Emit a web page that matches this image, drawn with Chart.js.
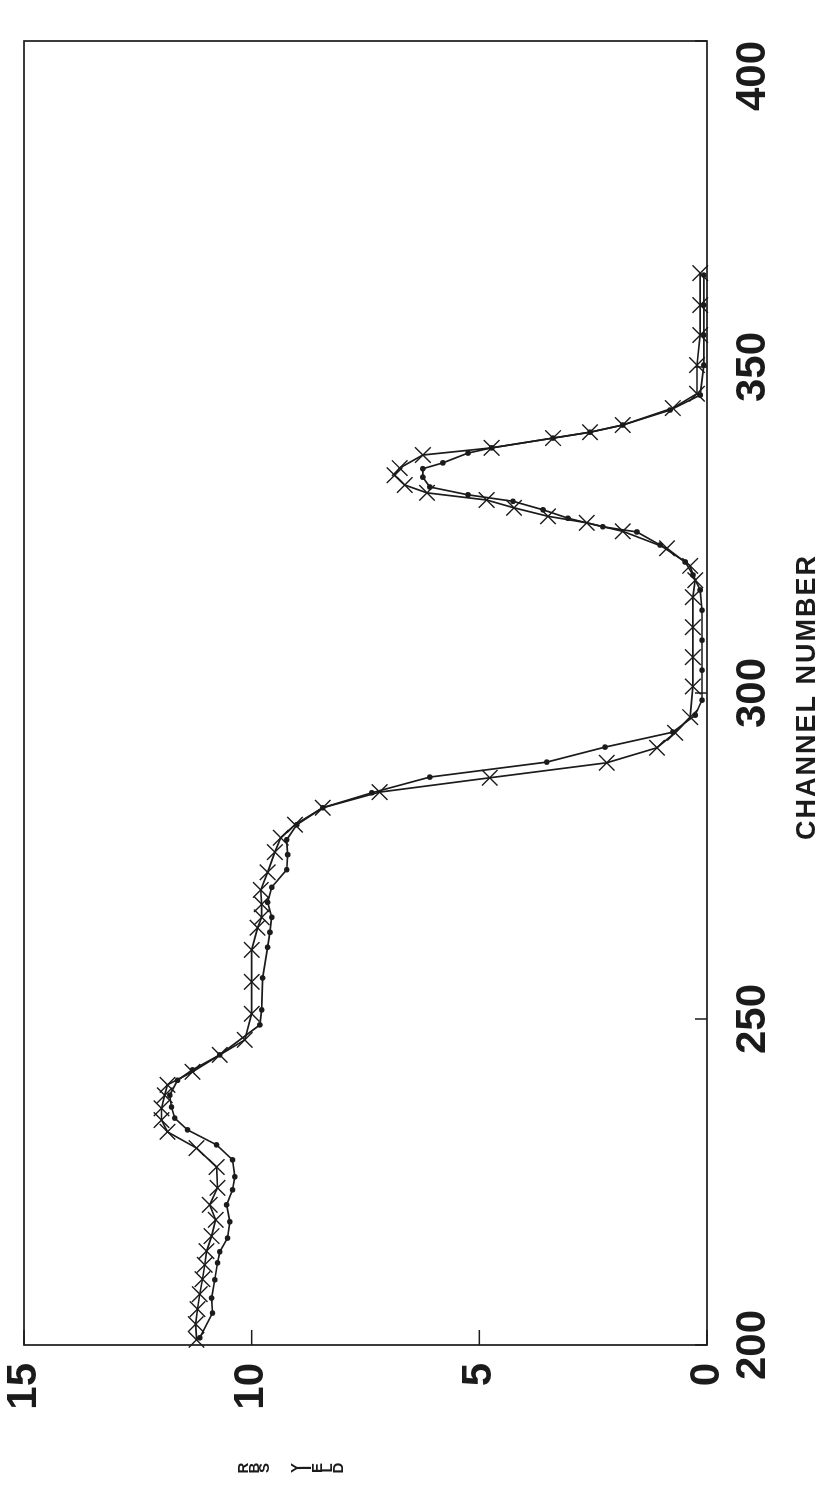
<!DOCTYPE html>
<html>
<head>
<meta charset="utf-8">
<script src="https://cdn.jsdelivr.net/npm/chart.js@4/dist/chart.umd.min.js"></script>
<style>
  html, body { margin: 0; padding: 0; background: #fff; }
  body { width: 823px; height: 1500px; position: relative; overflow: hidden; }
  /* el grafico se dibuja "acostado" y se gira 90 grados, como el original */
  #giro { position: absolute; left: 0; top: 0; width: 1500px; height: 823px;
          transform-origin: 0 0; transform: translate(0px, 1500px) rotate(-90deg); }
  canvas { display: block; }
</style>
</head>
<body>
<div id="giro"><canvas id="grafico" width="1500" height="823"></canvas></div>
<script>
// ================= DATOS =================
const canalTicks = [200, 250, 300, 350, 400];
const rendTicks = [0, 5, 10, 15];

// serie con cruces
const canalX = [200.8, 203.2, 205.5, 207.8, 210.1, 212.3, 214.4, 216.7, 219.2, 221.5, 224.1, 227.3, 230.2, 232.7, 234.5, 236.3, 238.3, 239.9, 241.9, 244.5, 246.8, 250.8, 255.7, 260.6, 264.0, 265.6, 267.6, 269.8, 272.5, 275.6, 277.8, 279.8, 282.4, 284.8, 287.0, 289.3, 291.6, 293.9, 296.3, 301.0, 305.5, 310.1, 314.7, 317.3, 319.5, 322.2, 324.8, 326.1, 327.1, 328.4, 329.6, 330.7, 331.9, 333.4, 334.5, 336.5, 337.6, 339.1, 340.0, 341.1, 343.7, 345.9, 350.3, 354.9, 359.5, 364.4];
const rendX = [11.21, 11.23, 11.19, 11.14, 11.08, 11.03, 10.99, 10.88, 10.79, 10.92, 10.75, 10.77, 11.21, 11.85, 11.98, 11.98, 11.91, 11.85, 11.30, 10.70, 10.15, 10.0, 10.0, 10.0, 9.87, 9.78, 9.78, 9.80, 9.65, 9.49, 9.36, 9.05, 8.44, 7.19, 4.77, 2.20, 1.10, 0.70, 0.37, 0.31, 0.31, 0.31, 0.31, 0.26, 0.37, 0.88, 1.85, 2.64, 3.49, 4.24, 4.84, 6.15, 6.64, 6.86, 6.75, 6.24, 4.73, 3.38, 2.57, 1.85, 0.75, 0.22, 0.22, 0.15, 0.15, 0.15];

// serie con puntos
const canalP = [201.1, 204.9, 207.2, 210.0, 212.6, 214.3, 216.4, 218.9, 221.5, 223.8, 225.8, 228.4, 230.7, 233.0, 234.8, 236.5, 238.3, 240.6, 242.2, 244.5, 249.1, 251.4, 256.3, 261.0, 263.3, 265.6, 267.9, 270.2, 272.9, 275.2, 277.5, 279.8, 282.4, 284.7, 287.1, 289.4, 291.7, 294.0, 296.6, 298.9, 303.5, 308.1, 312.7, 315.8, 318.1, 320.1, 322.7, 324.7, 325.5, 326.8, 328.1, 329.4, 330.4, 331.6, 333.1, 334.4, 335.3, 336.8, 337.6, 339.1, 340.0, 341.1, 343.4, 345.7, 350.3, 354.9, 359.5, 364.1];
const rendP = [11.14, 10.86, 10.88, 10.81, 10.75, 10.70, 10.53, 10.48, 10.55, 10.42, 10.37, 10.42, 10.77, 11.41, 11.69, 11.76, 11.80, 11.63, 11.30, 10.70, 9.82, 9.78, 9.76, 9.65, 9.60, 9.56, 9.65, 9.56, 9.23, 9.21, 9.23, 9.01, 8.44, 7.36, 6.09, 3.52, 2.24, 0.75, 0.26, 0.11, 0.11, 0.11, 0.11, 0.15, 0.31, 0.48, 1.03, 1.54, 2.29, 3.05, 3.60, 4.26, 5.25, 6.09, 6.24, 6.24, 5.80, 5.25, 4.73, 3.38, 2.57, 1.85, 0.81, 0.15, 0.07, 0.07, 0.07, 0.07];

const tituloX = "CHANNEL NUMBER";
const tituloY = ["R", "B", "S", "", "", "Y", "I", "E", "L", "D"];

// ================= UTILES =================
const tinta = "#1b1b1b";
const fuente = "'Liberation Sans', Arial, sans-serif";

function pares(xs, ys) {
  return xs.map((x, i) => ({ x: x, y: ys[i] }));
}

// marco, marcas hacia dentro, etiquetas del eje de canales y titulos
const marco = {
  id: "marco",
  afterDraw(chart) {
    const { ctx, chartArea: a, scales } = chart;
    ctx.save();
    ctx.strokeStyle = tinta;
    ctx.lineWidth = 1.7;
    ctx.strokeRect(a.left, a.top, a.right - a.left, a.bottom - a.top);

    ctx.lineWidth = 1.5;
    canalTicks.forEach(v => {
      const px = scales.x.getPixelForValue(v);
      ctx.beginPath(); ctx.moveTo(px, a.bottom); ctx.lineTo(px, a.bottom - 12); ctx.stroke();
    });
    rendTicks.forEach(v => {
      const py = scales.y.getPixelForValue(v);
      ctx.beginPath(); ctx.moveTo(a.left, py); ctx.lineTo(a.left + 15, py); ctx.stroke();
    });

    ctx.fillStyle = tinta;
    ctx.textAlign = "center";
    ctx.textBaseline = "middle";

    // etiquetas de canal: la ultima no se sale del marco
    ctx.font = "bold 42px " + fuente;
    canalTicks.forEach(v => {
      const txt = String(v);
      const w = ctx.measureText(txt).width;
      const px = Math.min(scales.x.getPixelForValue(v), a.right - w / 2);
      ctx.fillText(txt, px, a.bottom + 46);
    });

    ctx.font = "bold 27px " + fuente;
    ctx.letterSpacing = "2px";
    ctx.fillText(tituloX, (a.left + a.right) / 2 - 4, 808);
    ctx.letterSpacing = "0px";

    // titulo vertical con letras apiladas (como en el original)
    ctx.font = "bold 15px " + fuente;
    tituloY.forEach((letra, i) => {
      if (letra) ctx.fillText(letra, 32, 244 + i * 10.5);
    });
    ctx.restore();
  }
};

// ================= GRAFICO =================
new Chart(document.getElementById("grafico").getContext("2d"), {
  type: "line",
  data: {
    datasets: [
      {
        label: "cruces",
        data: pares(canalX, rendX),
        borderColor: tinta,
        borderWidth: 1.7,
        pointStyle: "crossRot",
        pointRadius: 11,
        pointBorderWidth: 1.4,
        pointBorderColor: tinta,
        fill: false,
        tension: 0,
        clip: false
      },
      {
        label: "puntos",
        data: pares(canalP, rendP),
        borderColor: tinta,
        borderWidth: 1.7,
        pointStyle: "circle",
        pointRadius: 2.8,
        pointBorderWidth: 0,
        pointBackgroundColor: tinta,
        fill: false,
        tension: 0,
        clip: false
      }
    ]
  },
  options: {
    responsive: false,
    animation: false,
    layout: { padding: { left: 0, right: 41, top: 24, bottom: 0 } },
    plugins: { legend: { display: false }, tooltip: { enabled: false } },
    scales: {
      x: {
        type: "linear",
        min: 200,
        max: 400,
        afterBuildTicks: s => { s.ticks = canalTicks.map(v => ({ value: v })); },
        afterFit: s => { s.height = 116; s.paddingLeft = 0; s.paddingRight = 0; },
        grid: { display: false, drawTicks: false },
        border: { display: false },
        ticks: { display: false }
      },
      y: {
        type: "linear",
        min: 0,
        max: 15,
        afterBuildTicks: s => { s.ticks = rendTicks.map(v => ({ value: v })); },
        afterFit: s => { s.width = 155; s.paddingTop = 0; s.paddingBottom = 0; },
        grid: { display: false, drawTicks: false },
        border: { display: false },
        ticks: { color: tinta, padding: 18,
                 font: { family: fuente, size: 42, weight: "bold" } }
      }
    }
  },
  plugins: [marco]
});
</script>
</body>
</html>
